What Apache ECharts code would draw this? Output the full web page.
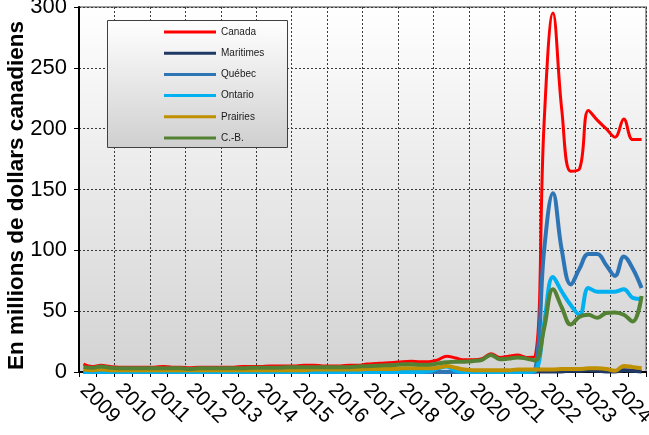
<!DOCTYPE html>
<html>
<head>
<meta charset="utf-8">
<script src="https://cdn.jsdelivr.net/npm/echarts@6/dist/echarts.min.js"></script>
<style>
html,body{margin:0;padding:0;background:#fff;}
#c{width:649px;height:435px;}
</style>
</head>
<body>
<div id="c"></div>
<script>
// ---- data (quarterly, 2009 T1 .. 2024 T4) ----
const years = ['2009','2010','2011','2012','2013','2014','2015','2016','2017','2018','2019','2020','2021','2022','2023','2024'];
const quarterNames = ['T1','T2','T3','T4'];
const yTicks = [0, 50, 100, 150, 200, 250, 300];
const seriesNames = ['Canada','Maritimes','Québec','Ontario','Prairies','C.-B.'];

const canada = [
 6.5,4.5,5.5,4.5,  4,4,4,4,  4,4.5,4,4,  3.5,4,4,4,
 4,4,4.5,4.5,  4.5,5,5,5,  5,5.5,5.5,5,  5,5,5.5,5.5,
 6.5,7,7.5,7.8,  8.5,8.8,8.5,8.5,  10,13,11.5,10,  10,11,15,12,
 13,14,12,13,  205,295,215,165,  167,215,207,200,  193,208,191,191
];
const maritimes = [
 0,0,0,0, 0,0,0,0, 0,0,0,0, 0,0,0,0,
 0,0,0,0, 0,0,0,0, 0,0,0,0, 0,0,0,0,
 0,0,0,0, 0,0,0,0, 0,0,0,0, 0,0,0,0,
 0,0,0,0.3, 0.5,0.5,0.5,1,  1,1.5,1,0.5,  0.5,1.5,1,0.5
];
const quebec = [
 0,0,0,0, 0,0,0,0, 0,0,0,0, 0,0,0,0,
 0,0,0,0, 0,0,0,0, 0,0,0,0, 0,0,0,0,
 0,0,0,0, 0,0,0,0, 0,0,0,0, 0,0,0,0,
 0,0,0,2,  100,147,100,72,  85,97,97,88,  79,95,85,69
];
const ontario = [
 0,0,0,0, 0,0,0,0, 0,0,0,0, 0,0,0,0,
 0,0,0,0, 0,0,0,0, 0,0,0,0, 0,0,0,0,
 0,0,0,0, 0,0,0,0.5,  3,4.5,1,0,  0,0,0,0,
 0,0,0,1,  40,78,66,55,  47,69,66,66,  66,68,61,60
];
const prairies = [
 2,1.5,2,1.5,  1.5,1.5,1.5,1.5,  1.5,1.5,1.5,1.5,  1.5,1.5,1.5,1.5,
 1.5,1.5,1.5,1.5,  1.5,1.5,1.5,1.5,  1.5,1.5,2,2,  2,2,2,2,
 2.5,2.5,2.5,2.5,  3,3,3,3,  3.5,5,3.5,2,  1.5,1.5,1.5,1.5,
 1.5,2,2,2,  2,2,2.5,2.5,  2.5,3,3,2.5,  1,5,4,3
];
const cb = [
 4,3.5,4.5,3.5,  3,3,3,3,  3,3,3,3,  2.5,3,3,3,
 3,3,3,3.5,  3.5,3.5,3.5,4,  4,4,4,4,  4,4,4,4.5,
 4.8,5.2,5.5,5.8,  6.3,6.3,6,6,  7,8,8.5,8.5,  9,10,14,10.5,
 11,12,11,9.5,  36,68,53,39,  45.5,47,44.5,48.5,  49,47,41.5,62.5
];
const colors = ['#FF0000','#1F3864','#2E75B6','#00B0F0','#BF9000','#548235'];
const widths = [3,4,4,4,4,4];

// build categories
const categories = [];
years.forEach(y => quarterNames.forEach(q => categories.push(y + ' ' + q)));
const allData = [canada, maritimes, quebec, ontario, prairies, cb];

const FONT = '"Liberation Sans", Arial, sans-serif';
const chart = echarts.init(document.getElementById('c'), null, {renderer:'canvas'});

const gridLine = {show:true, lineStyle:{color:'#3a3a3a', type:[2,2], width:1}};

chart.setOption({
  animation:false,
  backgroundColor:'#ffffff',
  textStyle:{fontFamily:FONT},
  grid:{
    left:79, right:3, top:7, bottom:63,
    containLabel:false,
    outerBoundsMode:'none',
    show:true,
    borderColor:'#a0a0a0', borderWidth:2,
    backgroundColor:{type:'linear',x:0,y:0,x2:0,y2:1,colorStops:[
      {offset:0,color:'#ffffff'},{offset:1,color:'#d3d3d3'}]}
  },
  xAxis:{
    type:'category',
    data:categories,
    boundaryGap:true,
    axisLine:{show:true, lineStyle:{color:'#000', width:2}},
    axisTick:{show:true, interval:1, length:5, lineStyle:{color:'#000', width:1}},
    splitLine:Object.assign({interval:3}, gridLine),
    axisLabel:{
      interval:3, rotate:-45, margin:15,
      fontSize:21, color:'#000', fontFamily:FONT,
      formatter:v => v.slice(0,4)
    }
  },
  yAxis:{
    type:'value', min:yTicks[0], max:yTicks[yTicks.length-1], interval:50,
    name:'En millions de dollars canadiens',
    nameLocation:'middle', nameRotate:90, nameGap:51, nameMoveOverlap:false,
    nameTextStyle:{fontSize:22.5, fontWeight:'bold', color:'#000', fontFamily:FONT, padding:[0,12,0,0]},
    axisLine:{show:true, lineStyle:{color:'#000', width:2}},
    axisTick:{show:true, length:5, lineStyle:{color:'#000', width:1}},
    splitLine:gridLine,
    axisLabel:{fontSize:22, color:'#000', margin:12, fontFamily:FONT}
  },
  legend:{
    orient:'vertical', left:159, top:21,
    icon:'rect', itemWidth:52, itemHeight:3, itemGap:9.2,
    textStyle:{fontSize:10, color:'#1a1a1a', fontFamily:FONT, lineHeight:12},
    data:seriesNames, z:20
  },
  graphic:[{
    type:'rect', left:107, top:20, z:15,
    shape:{width:180, height:127},
    style:{
      fill:{type:'linear',x:0,y:0,x2:0,y2:1,colorStops:[
        {offset:0,color:'#ffffff'},{offset:1,color:'#cfcfcf'}]},
      stroke:'#404040', lineWidth:1
    }
  }],
  series: seriesNames.map((n,i)=>({
    name:n, type:'line', data:allData[i],
    smooth:0.4, showSymbol:false, symbol:'none',
    lineStyle:{color:colors[i], width:widths[i]},
    itemStyle:{color:colors[i]},
    z:2+i, clip:false
  }))
});
</script>
</body>
</html>
